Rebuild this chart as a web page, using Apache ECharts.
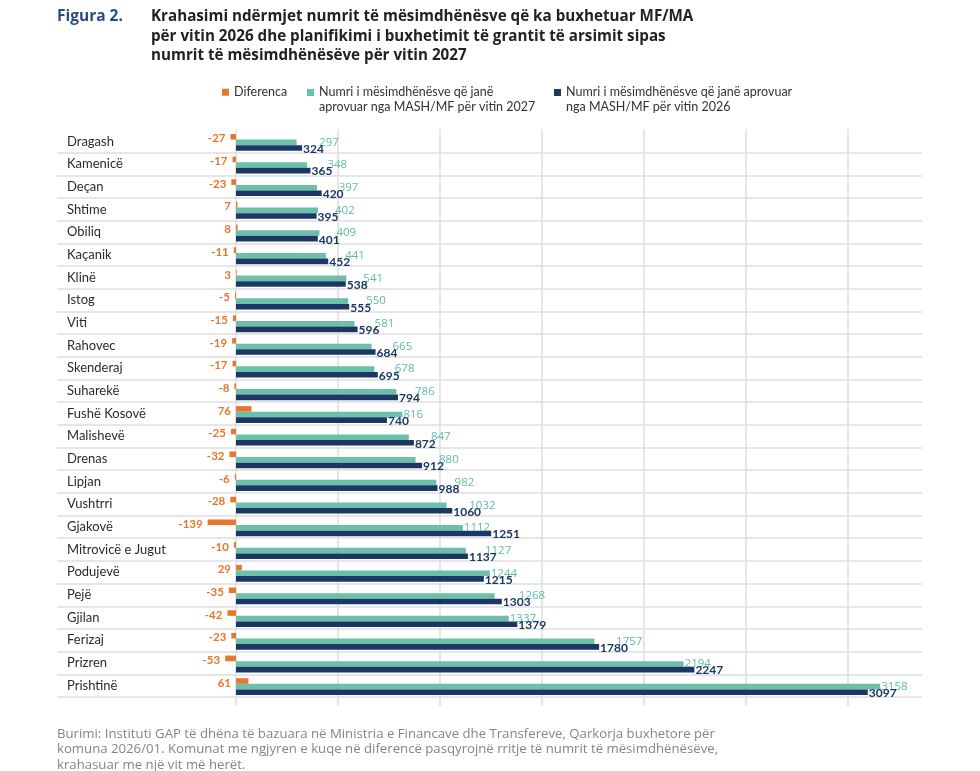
<!DOCTYPE html>
<html>

<head>
    <meta charset="utf-8">
    <title>Figura 2</title>
    <style>
        html, body { margin: 0; padding: 0; background: #fff; }
    </style>
</head>

<body>

    <div id="chart" style="width: 980px;height: 771px;"></div>

    <script src="https://cdn.jsdelivr.net/npm/echarts@6/dist/echarts.min.js"></script>
    <script>
        // komunat
        const komunat = ['Dragash', 'Kamenicë', 'Deçan', 'Shtime', 'Obiliq', 'Kaçanik', 'Klinë', 'Istog',
            'Viti', 'Rahovec', 'Skenderaj', 'Suharekë', 'Fushë Kosovë', 'Malishevë', 'Drenas', 'Lipjan',
            'Vushtrri', 'Gjakovë', 'Mitrovicë e Jugut', 'Podujevë', 'Pejë', 'Gjilan', 'Ferizaj', 'Prizren',
            'Prishtinë'
        ];
        const diferenca = [-27, -17, -23, 7, 8, -11, 3, -5, -15, -19, -17, -8, 76, -25, -32, -6, -28, -139,
            -10, 29, -35, -42, -23, -53, 61
        ];
        const v2027 = [297, 348, 397, 402, 409, 441, 541, 550, 581, 665, 678, 786, 816, 847, 880, 982, 1032,
            1112, 1127, 1244, 1268, 1337, 1757, 2194, 3158
        ];
        const v2026 = [324, 365, 420, 395, 401, 452, 538, 555, 596, 684, 695, 794, 740, 872, 912, 988, 1060,
            1251, 1137, 1215, 1303, 1379, 1780, 2247, 3097
        ];
        const xTicks = [-500, 0, 500, 1000, 1500, 2000, 2500, 3000, 3500];

        const emri1 = 'Diferenca',
            emri2 = 'Numri i mësimdhënësve që janë\naprovuar nga MASH/MF për vitin 2027',
            emri3 = 'Numri i mësimdhënësve që janë aprovuar\nnga MASH/MF për vitin 2026';

        const ngjyra = {
            orange: '#e8762d',
            teal: '#6cc0a9',
            navy: '#1c3764',
            grid: '#dedede'
        };
        const font = 'Lato, "Open Sans", sans-serif';
        const fontTitull = '"Open Sans", Lato, sans-serif';

        const chart = echarts.init(document.getElementById('chart'));

        // vijat horizontale: pa vije mbi rreshtin e pare
        const hColors = [];
        for (let i = 0; i <= komunat.length; i++) hColors.push(i === 0 ? 'transparent' : ngjyra.grid);
        // vijat vertikale vetem nga 0 deri 3000
        const vColors = xTicks.map(t => (t < 0 || t > 3000) ? 'transparent' : ngjyra.grid);

        const legendText = { fontFamily: font, fontSize: 12.5, color: '#333', lineHeight: 14.5 };
        // katror lart, pika e padukshme poshte: ikona rri te rreshti i pare
        const ikonaLart = 'path://M0,0L7,0L7,7L0,7Z M0,21L0.01,21';

        const option = {
            animation: false,
            textStyle: { fontFamily: font },
            title: [{
                text: 'Figura 2.',
                left: 57,
                top: 7,
                padding: 0,
                textStyle: { fontFamily: fontTitull, fontSize: 15.5, fontWeight: 'bold', color: '#2b4c7e', lineHeight: 19.5 }
            }, {
                text: 'Krahasimi ndërmjet numrit të mësimdhënësve që ka buxhetuar MF/MA\npër vitin 2026 dhe planifikimi i buxhetimit të grantit të arsimit sipas\nnumrit të mësimdhënësëve për vitin 2027',
                left: 151,
                top: 7,
                padding: 0,
                textStyle: { fontFamily: fontTitull, fontSize: 15.2, fontWeight: 'bold', color: '#222', lineHeight: 19.5 }
            }],
            legend: [{
                left: 222, top: 85, padding: 0, icon: 'rect', itemWidth: 7, itemHeight: 7,
                data: [emri1], textStyle: legendText
            }, {
                left: 307, top: 85, padding: 0, icon: ikonaLart, itemWidth: 7, itemHeight: 21,
                data: [emri2], textStyle: legendText
            }, {
                left: 554, top: 85, padding: 0, icon: ikonaLart, itemWidth: 7, itemHeight: 21,
                data: [emri3], textStyle: legendText
            }],
            grid: [
                // rreshtat dhe emrat e komunave
                { left: 57, right: 58, top: 130, bottom: 74 },
                // shtyllat
                { left: 134, right: 30, top: 131, bottom: 73 },
                // vijat vertikale
                { left: 134, right: 30, top: 129, bottom: 65 }
            ],
            xAxis: [{
                gridIndex: 0, type: 'value', show: false
            }, {
                gridIndex: 1, type: 'value', min: -500, max: 3500, interval: 500, show: false
            }, {
                gridIndex: 2, type: 'value', min: -500, max: 3500, interval: 500,
                axisLine: { show: false }, axisTick: { show: false }, axisLabel: { show: false },
                splitLine: { show: true, lineStyle: { color: vColors, width: 1.5 } }
            }],
            yAxis: [{
                gridIndex: 0, type: 'category', data: komunat, inverse: true,
                axisLine: { show: false }, axisTick: { show: false },
                axisLabel: { inside: true, margin: 10, fontFamily: font, fontSize: 13, color: '#2b2b2b' },
                splitLine: { show: true, lineStyle: { color: hColors, width: 1.5 } }
            }, {
                gridIndex: 1, type: 'category', data: komunat, inverse: true, show: false
            }, {
                gridIndex: 2, type: 'value', show: false, splitLine: { show: false }
            }],
            series: [{
                name: emri1,
                type: 'bar',
                xAxisIndex: 1, yAxisIndex: 1,
                data: diferenca,
                barWidth: 5.6,
                barGap: '0%',
                itemStyle: { color: ngjyra.orange },
                label: {
                    show: true, position: 'left', distance: 5, offset: [0, 2],
                    fontFamily: font, fontSize: 11.5, fontWeight: 'bold', color: ngjyra.orange
                }
            }, {
                name: emri2,
                type: 'bar',
                xAxisIndex: 1, yAxisIndex: 1,
                data: v2027,
                barWidth: 5.6,
                itemStyle: { color: ngjyra.teal },
                label: {
                    show: true, position: 'right', distance: 1, offset: [0, -5],
                    fontFamily: '"Open Sans", sans-serif', fontSize: 11.5, color: '#5fbca2'
                },
                labelLayout: function (p) {
                    const i = p.dataIndex;
                    const t = v2027[i], n = v2026[i];
                    // kur etiketa e 2026 e mbulon, zhvendose djathtas
                    if (n - t >= -10 && n - t < 40 && p.rect) {
                        const perUnit = p.rect.width / t;
                        const endT = p.rect.x + p.rect.width;
                        const endN = p.rect.x + n * perUnit;
                        const target = Math.max(endT, endN) + 17;
                        return { dx: target - p.labelRect.x };
                    }
                    return {};
                }
            }, {
                name: emri3,
                type: 'bar',
                xAxisIndex: 1, yAxisIndex: 1,
                data: v2026,
                barWidth: 5.6,
                itemStyle: { color: ngjyra.navy },
                label: {
                    show: true, position: 'right', distance: 1, offset: [0, 1],
                    fontFamily: font, fontSize: 12, fontWeight: 'bold', color: ngjyra.navy
                }
            }],
            graphic: [{
                type: 'text',
                left: 57,
                top: 726,
                style: {
                    text: 'Burimi: Instituti GAP të dhëna të bazuara në Ministria e Financave dhe Transfereve, Qarkorja buxhetore për\nkomuna 2026/01. Komunat me ngjyren e kuqe në diferencë pasqyrojnë rritje të numrit të mësimdhënësëve,\nkrahasuar me një vit më herët.',
                    font: '13.2px "Open Sans", sans-serif',
                    fill: '#858585',
                    lineHeight: 15.5
                }
            }]
        };

        chart.setOption(option);
    </script>

</body>

</html>
